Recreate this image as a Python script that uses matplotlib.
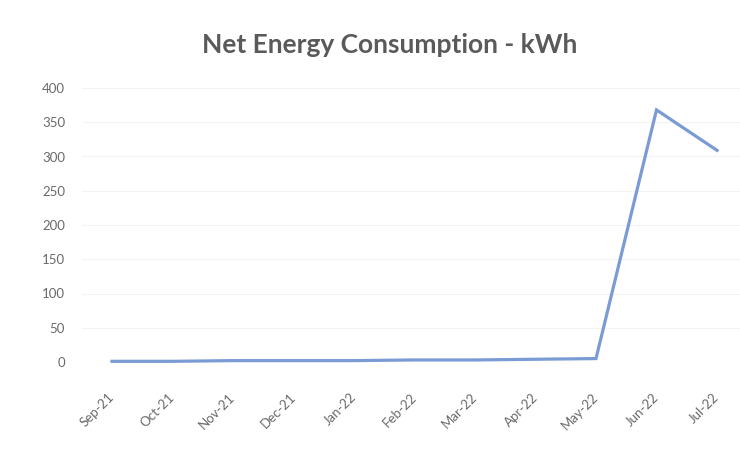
import matplotlib.pyplot as plt

months = ["Sep-21", "Oct-21", "Nov-21", "Dec-21", "Jan-22", "Feb-22",
          "Mar-22", "Apr-22", "May-22", "Jun-22", "Jul-22"]
kwh = [1, 1, 2, 2, 2, 3, 3, 4, 5, 368, 309]
yticks = [0, 50, 100, 150, 200, 250, 300, 350, 400]

plt.rcParams['font.family'] = ['Lato', 'DejaVu Sans']

W, H = 740, 465
fig = plt.figure(figsize=(W / 100, H / 100), dpi=100)

# place axes so Sep-21 sits at x=112px and each month is 60.5px apart
x0_px, step = 112, 60.5
xmin, xmax = -0.5, (W - x0_px) / step
left = (x0_px + xmin * step) / W
ax = fig.add_axes([left, (H - 362) / H, 1 - left, 274 / H])

ax.plot(range(len(months)), kwh, color='#7b9bd5', lw=2.3, clip_on=False,
        solid_joinstyle='miter')
ax.set_xlim(xmin, xmax)
ax.set_ylim(0, 400)
ax.set_yticks(yticks)
ax.set_xticks(range(len(months)))
ax.set_xticklabels(months, rotation=45, ha='right', va='center',
                   rotation_mode='anchor')
ax.tick_params(axis='x', length=0, pad=24, labelsize=9.5, labelcolor='#6a6a6a')
ax.tick_params(axis='y', length=0, pad=12, labelsize=9.5, labelcolor='#6a6a6a')
ax.grid(axis='y', color='#f3f3f3', lw=0.8)
for s in ax.spines.values():
    s.set_visible(False)

fig.text(0.527, 1 - 45 / H, "Net Energy Consumption - kWh", ha='center',
         va='center', fontsize=19, fontweight='bold', color='#5a5a5a')

fig.savefig('out.png', dpi=100)
